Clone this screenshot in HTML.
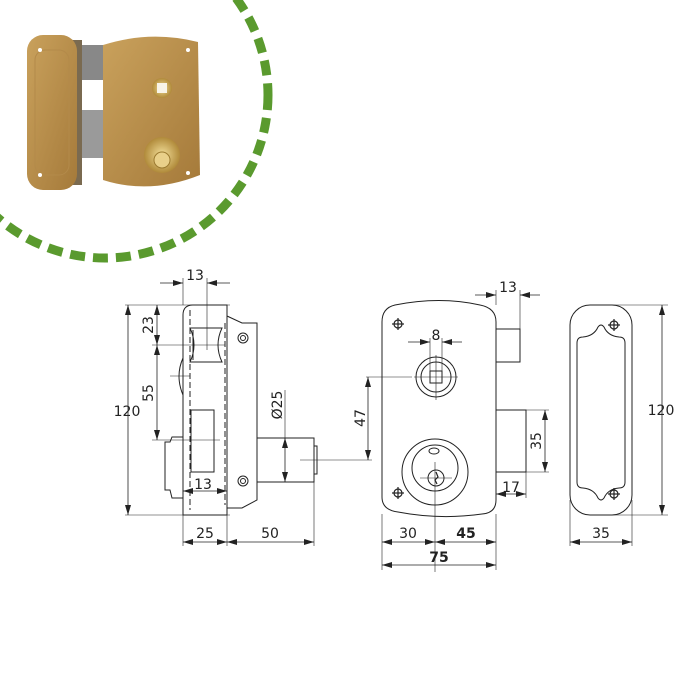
<!DOCTYPE html>
<html><head><meta charset="utf-8"><style>
html,body{margin:0;padding:0;background:#fff;width:700px;height:700px;overflow:hidden}
svg{display:block}
text{font-family:"DejaVu Sans","Liberation Sans",sans-serif;font-size:14px;fill:#222}
</style></head><body>
<svg width="700" height="700" viewBox="0 0 700 700">
<defs>
<marker id="a" markerWidth="10" markerHeight="6" refX="10" refY="3" orient="auto-start-reverse" markerUnits="userSpaceOnUse">
<path d="M0,0 L10,3 L0,6 z" fill="#222"/></marker>
<linearGradient id="g" x1="0" y1="0" x2="1" y2="1"><stop offset="0" stop-color="#c9a15c"/><stop offset="1" stop-color="#a57a3a"/></linearGradient>
<radialGradient id="br"><stop offset="0" stop-color="#f3df9a"/><stop offset="1" stop-color="#b08a3a"/></radialGradient>
</defs>
<!-- green dashed arc -->
<circle cx="105" cy="95" r="163" fill="none" stroke="#5a9a2e" stroke-width="9" stroke-dasharray="15 8"/>
<!-- photo -->
<rect x="80" y="45" width="25" height="35" fill="#888"/>
<rect x="80" y="110" width="25" height="48" fill="#9a9a9a"/>
<rect x="72" y="40" width="10" height="145" fill="#7a6a50"/>
<rect x="27" y="35" width="50" height="155" rx="16" fill="url(#g)"/>
<rect x="35" y="50" width="34" height="125" rx="10" fill="none" stroke="#b38a4a"/>
<path d="M103,45 Q150,30 198,42 L200,175 Q150,195 103,180 Z" fill="url(#g)"/>
<circle cx="162" cy="88" r="10" fill="url(#br)"/><rect x="157" y="83" width="10" height="10" fill="#f8f4e8"/>
<circle cx="162" cy="155" r="18" fill="url(#br)"/><circle cx="162" cy="160" r="8" fill="#e9d08a" stroke="#9b7a30"/>
<circle cx="40" cy="50" r="2" fill="#fff"/><circle cx="40" cy="175" r="2" fill="#fff"/>
<circle cx="188" cy="50" r="2" fill="#fff"/><circle cx="188" cy="173" r="2" fill="#fff"/>

<g fill="none" stroke="#222" stroke-width="1">
<!-- side view -->
<path d="M183,515 L183,315 Q183,305 193,305 L227,305 L227,316 L242,323 L257,323 L257,500 L242,508 L227,508 L227,515 Z"/>
<line x1="227" y1="316" x2="227" y2="508"/>
<line x1="190" y1="310" x2="190" y2="510" stroke-dasharray="6 3"/>
<line x1="225" y1="323" x2="225" y2="505" stroke-dasharray="6 3"/>
<path d="M190,328 L222,328 Q214,345 222,362 L190,362 Q198,345 190,328 Z"/>
<line x1="193" y1="330" x2="193" y2="360"/>
<rect x="191" y="410" width="23" height="62"/>
<path d="M183,358 Q175,376 183,395"/>
<path d="M183,437 L172,437 L170,442 L165,442 L165,490 L170,490 L172,498 L183,498"/>
<circle cx="243" cy="338" r="5"/><circle cx="243" cy="338" r="2.5"/>
<circle cx="243" cy="481" r="5"/><circle cx="243" cy="481" r="2.5"/>
<rect x="257" y="438" width="57" height="44"/>
<rect x="314" y="446" width="3" height="28"/>
<g stroke-width="0.6">
<line x1="300" y1="460" x2="372" y2="460"/>
<line x1="207" y1="278" x2="207" y2="350"/>
<line x1="183" y1="278" x2="183" y2="305"/>
<line x1="125" y1="305" x2="230" y2="305"/>
<line x1="125" y1="515" x2="230" y2="515"/>
<line x1="152" y1="345" x2="225" y2="345"/>
<line x1="152" y1="440" x2="220" y2="440"/>
<line x1="170" y1="376" x2="190" y2="376"/>
<line x1="183" y1="515" x2="183" y2="546"/>
<line x1="227" y1="515" x2="227" y2="546"/>
<line x1="314" y1="482" x2="314" y2="546"/>
<line x1="285" y1="390" x2="285" y2="438"/>
</g>
<g stroke-width="0.8">
<line x1="160" y1="283" x2="183" y2="283" marker-end="url(#a)"/>
<line x1="230" y1="283" x2="207" y2="283" marker-end="url(#a)"/>
<line x1="128" y1="305" x2="128" y2="515" marker-start="url(#a)" marker-end="url(#a)"/>
<line x1="157" y1="305" x2="157" y2="345" marker-start="url(#a)" marker-end="url(#a)"/>
<line x1="157" y1="345" x2="157" y2="440" marker-start="url(#a)" marker-end="url(#a)"/>
<line x1="183" y1="491" x2="227" y2="491" marker-start="url(#a)" marker-end="url(#a)"/>
<line x1="183" y1="542" x2="227" y2="542" marker-start="url(#a)" marker-end="url(#a)"/>
<line x1="227" y1="542" x2="314" y2="542" marker-start="url(#a)" marker-end="url(#a)"/>
<line x1="285" y1="438" x2="285" y2="482" marker-start="url(#a)" marker-end="url(#a)"/>
</g>

<!-- front view -->
<path d="M382,322 Q382,308 395,305 Q440,296 480,305 Q496,308 496,322 L496,500 Q496,513 482,514 Q440,520 398,512 Q382,510 382,497 Z"/>
<rect x="496" y="329" width="24" height="33"/>
<rect x="496" y="410" width="30" height="62"/>
<circle cx="436" cy="377" r="20"/><circle cx="436" cy="377" r="15"/>
<rect x="430" y="371" width="12" height="12"/>
<circle cx="435" cy="472" r="33"/><circle cx="435" cy="468" r="23"/><circle cx="436" cy="478" r="8"/>
<ellipse cx="434" cy="451" rx="5" ry="3"/>
<path d="M436,472 L438,477 L435,480 L437,484" stroke-width="1.2"/>
<g stroke-width="1.2"><circle cx="398" cy="324" r="4"/><line x1="392" y1="324" x2="404" y2="324"/><line x1="398" y1="318" x2="398" y2="330"/>
<circle cx="398" cy="493" r="4"/><line x1="392" y1="493" x2="404" y2="493"/><line x1="398" y1="487" x2="398" y2="499"/></g>
<g stroke-width="0.6">
<line x1="436" y1="355" x2="436" y2="400"/>
<line x1="414" y1="377" x2="458" y2="377"/>
<line x1="366" y1="377" x2="412" y2="377"/>
<line x1="435" y1="462" x2="435" y2="572"/>
<line x1="420" y1="478" x2="452" y2="478"/>
<line x1="430" y1="338" x2="430" y2="372"/>
<line x1="442" y1="338" x2="442" y2="372"/>
<line x1="520" y1="290" x2="520" y2="329"/>
<line x1="496" y1="290" x2="496" y2="305"/>
<line x1="526" y1="410" x2="549" y2="410"/>
<line x1="526" y1="472" x2="549" y2="472"/>
<line x1="526" y1="472" x2="526" y2="498"/>
<line x1="382" y1="514" x2="382" y2="570"/>
<line x1="496" y1="514" x2="496" y2="570"/>
</g>
<g stroke-width="0.8">
<line x1="475" y1="295" x2="496" y2="295" marker-end="url(#a)"/>
<line x1="540" y1="295" x2="520" y2="295" marker-end="url(#a)"/>
<line x1="408" y1="342" x2="430" y2="342" marker-end="url(#a)"/>
<line x1="462" y1="342" x2="442" y2="342" marker-end="url(#a)"/>
<line x1="368" y1="377" x2="368" y2="460" marker-start="url(#a)" marker-end="url(#a)"/>
<line x1="545" y1="410" x2="545" y2="472" marker-start="url(#a)" marker-end="url(#a)"/>
<line x1="496" y1="494" x2="526" y2="494" marker-start="url(#a)" marker-end="url(#a)"/>
<line x1="382" y1="542" x2="435" y2="542" marker-start="url(#a)" marker-end="url(#a)"/>
<line x1="435" y1="542" x2="496" y2="542" marker-start="url(#a)" marker-end="url(#a)"/>
<line x1="382" y1="565" x2="496" y2="565" marker-start="url(#a)" marker-end="url(#a)"/>
</g>

<!-- strike plate -->
<rect x="570" y="305" width="62" height="210" rx="20"/>
<path d="M577,343 Q577,337 583,337 Q594,336 598,327 Q601,323 604,327 Q608,336 619,337 Q625,337 625,343 L625,482 Q625,488 619,488 Q608,489 604,498 Q601,502 598,498 Q594,489 583,488 Q577,488 577,482 Z"/>
<g stroke-width="1.2"><circle cx="614" cy="325" r="4"/><line x1="608" y1="325" x2="620" y2="325"/><line x1="614" y1="319" x2="614" y2="331"/>
<circle cx="614" cy="494" r="4"/><line x1="608" y1="494" x2="620" y2="494"/><line x1="614" y1="488" x2="614" y2="500"/></g>
<g stroke-width="0.6">
<line x1="600" y1="305" x2="668" y2="305"/>
<line x1="600" y1="515" x2="668" y2="515"/>
<line x1="570" y1="500" x2="570" y2="546"/>
<line x1="632" y1="500" x2="632" y2="546"/>
</g>
<g stroke-width="0.8">
<line x1="662" y1="305" x2="662" y2="515" marker-start="url(#a)" marker-end="url(#a)"/>
<line x1="570" y1="542" x2="632" y2="542" marker-start="url(#a)" marker-end="url(#a)"/>
</g>
</g>
<!-- labels -->
<text x="195" y="280" text-anchor="middle">13</text>
<text x="127" y="416" text-anchor="middle">120</text>
<text transform="translate(153,325) rotate(-90)" text-anchor="middle">23</text>
<text transform="translate(153,393) rotate(-90)" text-anchor="middle">55</text>
<text x="203" y="489" text-anchor="middle">13</text>
<text x="205" y="538" text-anchor="middle">25</text>
<text x="270" y="538" text-anchor="middle">50</text>
<text transform="translate(282,405) rotate(-90)" text-anchor="middle">Ø25</text>
<text x="508" y="292" text-anchor="middle">13</text>
<text x="436" y="340" text-anchor="middle">8</text>
<text transform="translate(365,418) rotate(-90)" text-anchor="middle">47</text>
<text transform="translate(541,441) rotate(-90)" text-anchor="middle">35</text>
<text x="511" y="492" text-anchor="middle">17</text>
<text x="408" y="538" text-anchor="middle">30</text>
<text x="466" y="538" text-anchor="middle" font-weight="bold">45</text>
<text x="439" y="562" text-anchor="middle" font-weight="bold">75</text>
<text x="661" y="415" text-anchor="middle">120</text>
<text x="601" y="538" text-anchor="middle">35</text>
</svg>
</body></html>
